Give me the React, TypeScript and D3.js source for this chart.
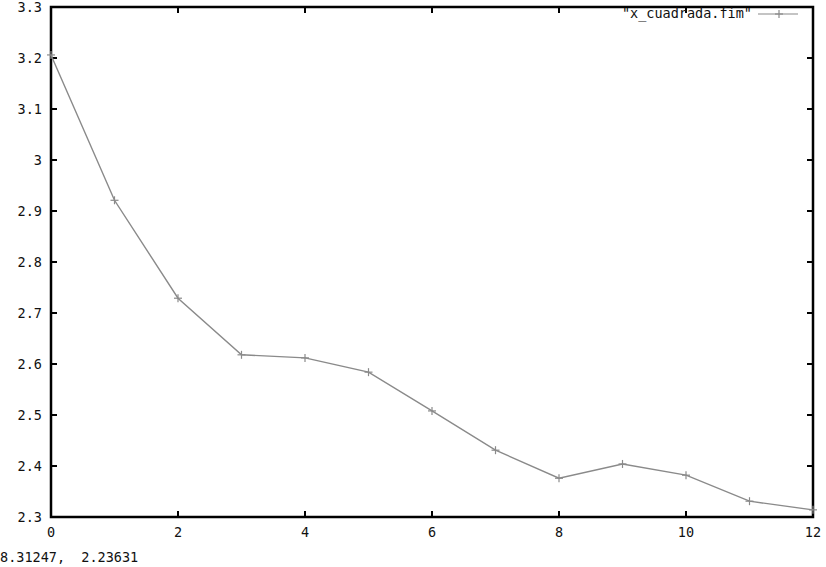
import React from "react";
import * as d3 from "d3";

const xValues = [0, 1, 2, 3, 4, 5, 6, 7, 8, 9, 10, 11, 12];
const yValues = [3.206, 2.921, 2.729, 2.618, 2.612, 2.584, 2.508, 2.431, 2.376, 2.404, 2.382, 2.331, 2.314];
const xTicks = [0, 2, 4, 6, 8, 10, 12];
const yTicks = [2.3, 2.4, 2.5, 2.6, 2.7, 2.8, 2.9, 3.0, 3.1, 3.2, 3.3];
const seriesName = '"x_cuadrada.fim"';
const statusText = "8.31247,  2.23631";

const W = 826;
const H = 567;
const left = 51;
const right = 813;
const top = 7;
const bottom = 517;
const font = "'DejaVu Sans Mono', monospace";
const lineColor = "#8a8a8a";
const textColor = "#111";

export default function App() {
  const x = d3.scaleLinear().domain([0, 12]).range([left, right]);
  const y = d3.scaleLinear().domain([2.3, 3.3]).range([bottom, top]);
  const data = xValues.map((v, i) => [v, yValues[i]] as [number, number]);
  const line = d3
    .line<[number, number]>()
    .x((d) => x(d[0]))
    .y((d) => y(d[1]));
  const fmt = (v: number) => {
    const s = d3.format(".1f")(v);
    return s === "3.0" ? "3" : s;
  };
  const tl = 6;
  const m = 4;
  return (
    <svg
      width={W}
      height={H}
      style={{ position: "absolute", left: 0, top: 0, background: "#fff" }}
    >
      <rect x={0} y={0} width={W} height={H} fill="#fff" />
      {yTicks.map((t) => (
        <g key={"y" + t}>
          <line x1={left} x2={left + tl} y1={y(t)} y2={y(t)} stroke="#000" strokeWidth={2} />
          <line x1={right - tl} x2={right} y1={y(t)} y2={y(t)} stroke="#000" strokeWidth={2} />
          <text
            x={42}
            y={y(t) + 5}
            textAnchor="end"
            fontFamily={font}
            fontSize={13.5}
            fill={textColor}
          >
            {fmt(t)}
          </text>
        </g>
      ))}
      {xTicks.map((t) => (
        <g key={"x" + t}>
          <line x1={x(t)} x2={x(t)} y1={bottom} y2={bottom - tl} stroke="#000" strokeWidth={2} />
          <line x1={x(t)} x2={x(t)} y1={top} y2={top + tl} stroke="#000" strokeWidth={2} />
          <text
            x={x(t)}
            y={537}
            textAnchor="middle"
            fontFamily={font}
            fontSize={13.5}
            fill={textColor}
          >
            {t}
          </text>
        </g>
      ))}
      <rect
        x={left}
        y={top}
        width={right - left}
        height={bottom - top}
        fill="none"
        stroke="#000"
        strokeWidth={2.5}
      />
      <path d={line(data) || ""} fill="none" stroke={lineColor} strokeWidth={1.4} />
      {data.map((d, i) => (
        <g key={"p" + i} stroke={lineColor} strokeWidth={1.2}>
          <line x1={x(d[0]) - m} x2={x(d[0]) + m} y1={y(d[1])} y2={y(d[1])} />
          <line x1={x(d[0])} x2={x(d[0])} y1={y(d[1]) - m} y2={y(d[1]) + m} />
        </g>
      ))}
      <text x={752} y={18} textAnchor="end" fontFamily={font} fontSize={13.5} fill={textColor}>
        {seriesName}
      </text>
      <g stroke={lineColor} strokeWidth={1.2}>
        <line x1={758} x2={798} y1={14} y2={14} />
        <line x1={779 - m} x2={779 + m} y1={14} y2={14} />
        <line x1={779} x2={779} y1={14 - m} y2={14 + m} />
      </g>
      <text
        x={0}
        y={562}
        fontFamily={font}
        fontSize={13.5}
        fill={textColor}
        style={{ whiteSpace: "pre" }}
      >
        {statusText}
      </text>
    </svg>
  );
}
